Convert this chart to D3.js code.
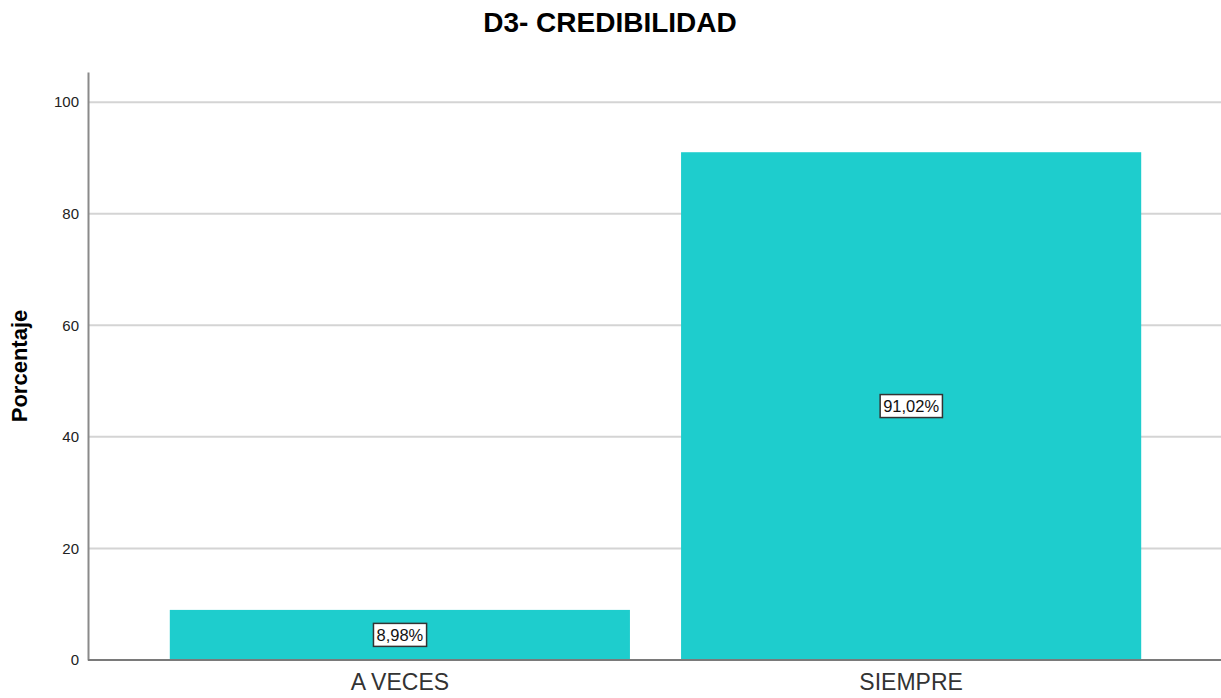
<!DOCTYPE html>
<html lang="es">
<head>
<meta charset="UTF-8">
<title>D3- CREDIBILIDAD</title>
<script src="https://d3js.org/d3.v7.min.js"></script>
<style>
  body { margin: 0; background: #fff; }
  text { font-family: Arial, "Liberation Sans", sans-serif; }
</style>
</head>
<body>
<div id="chart"></div>
<script>
  // datos del grafico
  const categorias = ["A VECES", "SIEMPRE"];
  const porcentajes = [8.98, 91.02];
  const ticksY = [0, 20, 40, 60, 80, 100];

  const width = 1221, height = 698;
  const margenIzq = 88, margenDer = 1223, margenSup = 72, margenInf = 660;
  const barColor = "#1ecdcd";

  const svg = d3.select("#chart").append("svg")
    .attr("width", width)
    .attr("height", height);

  const x = d3.scaleBand()
    .domain(categorias)
    .range([margenIzq, margenDer])
    .paddingInner(0.1)
    .paddingOuter(0.16);

  // eje hasta 105.4 para dejar el espacio sobre el 100
  const y = d3.scaleLinear()
    .domain([0, 105.4])
    .range([margenInf, margenSup]);

  // lineas de cuadricula
  svg.append("g")
    .selectAll("line")
    .data(ticksY.filter(d => d > 0))
    .join("line")
    .attr("x1", margenIzq).attr("x2", width)
    .attr("y1", d => y(d)).attr("y2", d => y(d))
    .attr("stroke", "#d4d4d4")
    .attr("stroke-width", 2);

  const data = categorias.map((c, i) => ({ cat: c, val: porcentajes[i] }));

  // barras
  svg.append("g")
    .selectAll("rect")
    .data(data)
    .join("rect")
    .attr("x", d => x(d.cat))
    .attr("y", d => y(d.val))
    .attr("width", x.bandwidth())
    .attr("height", d => y(0) - y(d.val))
    .attr("fill", barColor);

  // eje Y
  const yAxis = svg.append("g")
    .attr("transform", `translate(${margenIzq},0)`)
    .call(d3.axisLeft(y).tickValues(ticksY).tickSize(0).tickPadding(9));
  yAxis.select(".domain").attr("stroke", "#8a8a8a").attr("stroke-width", 2);
  yAxis.selectAll("text")
    .attr("font-size", 15)
    .attr("fill", "#222")
    .style("font-family", "Arial, 'Liberation Sans', sans-serif");

  // eje X
  const xAxis = svg.append("g")
    .attr("transform", `translate(0,${margenInf})`)
    .call(d3.axisBottom(x).tickSize(0).tickPadding(14));
  xAxis.select(".domain")
    .attr("d", `M${margenIzq},0H${width}`)
    .attr("stroke", "#7a7a7a").attr("stroke-width", 2);
  xAxis.selectAll("text")
    .attr("font-size", 23)
    .attr("fill", "#333")
    .style("font-family", "Arial, 'Liberation Sans', sans-serif");

  // etiquetas de valor
  const fmt = v => v.toFixed(2).replace(".", ",") + "%";
  const etiquetas = svg.append("g")
    .selectAll("g")
    .data(data)
    .join("g")
    .attr("transform", d => `translate(${x(d.cat) + x.bandwidth() / 2},${y(d.val / 2)})`);

  etiquetas.append("text")
    .attr("text-anchor", "middle")
    .attr("dy", "0.36em")
    .attr("font-size", 16.5)
    .attr("fill", "#111")
    .text(d => fmt(d.val))
    .each(function () {
      const b = this.getBBox();
      d3.select(this.parentNode).insert("rect", "text")
        .attr("x", b.x - 3)
        .attr("y", b.y - 2.5)
        .attr("width", b.width + 6)
        .attr("height", b.height + 5)
        .attr("fill", "#fff")
        .attr("stroke", "#333")
        .attr("stroke-width", 1.5);
    });

  // titulo
  svg.append("text")
    .attr("x", 610)
    .attr("y", 32)
    .attr("text-anchor", "middle")
    .attr("font-size", 28)
    .attr("font-weight", "bold")
    .attr("fill", "#000")
    .text("D3- CREDIBILIDAD");

  // titulo eje Y
  svg.append("text")
    .attr("transform", `translate(27,${(margenSup + margenInf) / 2}) rotate(-90)`)
    .attr("text-anchor", "middle")
    .attr("font-size", 22)
    .attr("font-weight", "bold")
    .attr("fill", "#000")
    .text("Porcentaje");
</script>
</body>
</html>
